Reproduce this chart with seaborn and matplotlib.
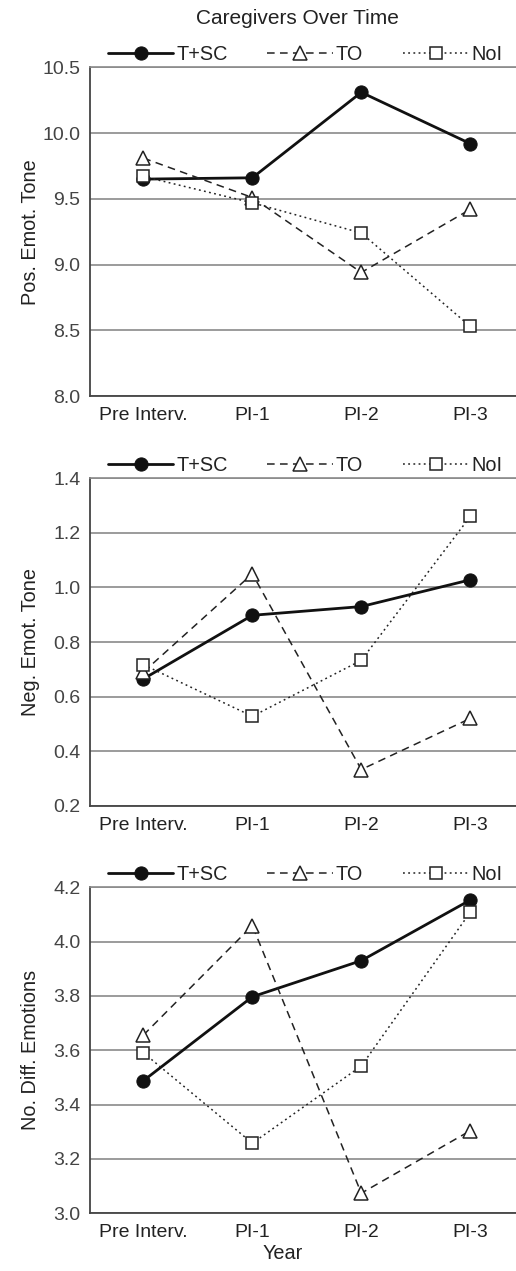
import pandas as pd
import matplotlib
matplotlib.use("Agg")
import matplotlib.pyplot as plt
import seaborn as sns

# Data
years = ["Pre Interv.", "PI-1", "PI-2", "PI-3"]
groups = ["T+SC", "TO", "NoI"]

pos_tsc = [9.65, 9.66, 10.31, 9.92]
pos_to = [9.81, 9.51, 8.94, 9.42]
pos_noi = [9.67, 9.47, 9.24, 8.53]

neg_tsc = [0.665, 0.898, 0.93, 1.028]
neg_to = [0.69, 1.05, 0.333, 0.52]
neg_noi = [0.717, 0.528, 0.733, 1.26]

diff_tsc = [3.488, 3.797, 3.93, 4.153]
diff_to = [3.656, 4.059, 3.074, 3.304]
diff_noi = [3.591, 3.258, 3.542, 4.108]

ylabels = ["Pos. Emot. Tone", "Neg. Emot. Tone", "No. Diff. Emotions"]
yticks = [
    [8.0, 8.5, 9.0, 9.5, 10.0, 10.5],
    [0.2, 0.4, 0.6, 0.8, 1.0, 1.2, 1.4],
    [3.0, 3.2, 3.4, 3.6, 3.8, 4.0, 4.2],
]
panels = [
    (pos_tsc, pos_to, pos_noi),
    (neg_tsc, neg_to, neg_noi),
    (diff_tsc, diff_to, diff_noi),
]

sns.set_style("white")
plt.rcParams["font.family"] = ["Liberation Sans", "DejaVu Sans"]
plt.rcParams["text.color"] = "#222222"
plt.rcParams["axes.labelcolor"] = "#222222"
plt.rcParams["xtick.color"] = "#222222"
plt.rcParams["ytick.color"] = "#444444"

styles = {
    "T+SC": dict(color="#111111", linestyle="-", linewidth=2.0, marker="o",
                 markersize=9.5, markerfacecolor="#111111", markeredgecolor="#111111"),
    "TO": dict(color="#222222", linestyle=(0, (5, 3.5)), linewidth=1.1, marker="^",
               markersize=10.5, markerfacecolor="white", markeredgecolor="#222222",
               markeredgewidth=1.1),
    "NoI": dict(color="#222222", linestyle=(0, (1.2, 2.2)), linewidth=1.1, marker="s",
                markersize=9, markerfacecolor="white", markeredgecolor="#222222",
                markeredgewidth=1.1),
}

fig = plt.figure(figsize=(5.16, 12.71), dpi=100)
positions = [
    [0.1744, 0.6884, 0.8256, 0.2586],
    [0.1744, 0.3660, 0.8256, 0.2577],
    [0.1744, 0.0454, 0.8256, 0.2565],
]

for i, (vals, pos) in enumerate(zip(panels, positions)):
    ax = fig.add_axes(pos)
    for g, v in zip(groups, vals):
        df = pd.DataFrame({"Year": years, "Value": v})
        sns.lineplot(data=df, x="Year", y="Value", ax=ax, sort=False,
                     label=g, **styles[g])
    t = yticks[i]
    ax.set_ylim(t[0], t[-1])
    ax.set_yticks(t)
    ax.set_yticklabels([f"{x:.1f}" for x in t], fontsize=14)
    ax.set_xlim(-0.49, 3.42)
    ax.tick_params(axis="x", length=0, pad=8, labelsize=14)
    ax.tick_params(axis="y", length=4, width=1, direction="out", pad=3)
    ax.yaxis.grid(True, color="#8a8a8a", linewidth=1.2)
    ax.set_axisbelow(True)
    for s in ["left", "bottom"]:
        ax.spines[s].set_color("#444444")
        ax.spines[s].set_linewidth(1.3)
    ax.spines["top"].set_color("#8a8a8a")
    ax.spines["top"].set_linewidth(1.2)
    ax.spines["right"].set_visible(False)
    ax.set_ylabel(ylabels[i], fontsize=14.3)
    ax.yaxis.set_label_coords(-0.117, 0.5)
    if i == 2:
        ax.set_xlabel("Year", fontsize=14.3)
        ax.xaxis.set_label_coords(0.453, -0.095)
    else:
        ax.set_xlabel("")
    ax.legend(loc="lower center", bbox_to_anchor=(0.505, 0.98), ncol=3,
              frameon=False, fontsize=14.3, handlelength=3.3,
              columnspacing=2.0, handletextpad=0.15, borderaxespad=0.1)

fig.text(297 / 516, 1 - 19 / 1271, "Caregivers Over Time", ha="center",
         va="center", fontsize=15)

plt.savefig("out.png", dpi=100)
